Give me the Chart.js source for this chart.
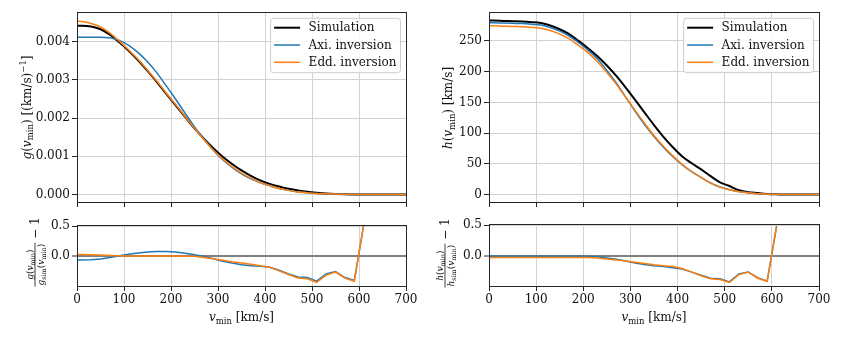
<!DOCTYPE html>
<html><head><meta charset="utf-8">
<script src="https://cdn.jsdelivr.net/npm/chart.js@4.4.1/dist/chart.umd.min.js"></script>
<style>
html,body{margin:0;padding:0;background:#fff;}
#wrap{position:relative;width:843px;height:337px;overflow:hidden;background:#fff;}
canvas{position:absolute;left:0;top:0;}
</style></head><body>
<div id="wrap">
<canvas id="c1" width="843" height="337"></canvas>
<canvas id="c2" width="843" height="337"></canvas>
<canvas id="c3" width="843" height="337"></canvas>
<canvas id="c4" width="843" height="337"></canvas>
</div>
<script>
// ---------- data ----------
const vmin = [0,10,30,50,70,90,110,130,150,170,190,210,230,250,270,290,310,330,350,370,390,410,430,450,470,490,510,530,550,570,590,610,630,650,670,690,700];

const gSim = [0.00441,0.00441,0.00439,0.00432,0.00418,0.00398,0.00376,0.00351,0.00323,0.00294,0.00263,0.00233,0.00203,0.00173,0.00146,0.00121,0.00099,0.00080,0.00063,0.00049,0.00037,0.00028,0.00021,0.00015,0.00011,0.000075,0.00005,0.00003,0.000018,0.00001,0.000004,0.000001,0,0,0,0,0];
const gAxi = [0.00411,0.00411,0.00411,0.00411,0.00410,0.00403,0.00390,0.00371,0.00347,0.00318,0.00284,0.00249,0.00213,0.00177,0.00145,0.00116,0.00091,0.00071,0.00054,0.00041,0.00031,0.00023,0.00016,0.00011,0.00007,0.000049,0.00003,0.000021,0.000013,0.0000065,0.0000024,0.0000015,0.0000005,0,0,0,0];
const gEdd = [0.00453,0.00452,0.00447,0.00438,0.00422,0.00401,0.00378,0.00353,0.00325,0.00296,0.00265,0.00235,0.00204,0.00173,0.00143,0.00116,0.00093,0.00073,0.00056,0.00043,0.00031,0.00023,0.00016,0.00011,0.00007,0.000047,0.000028,0.00002,0.000013,0.000006,0.000002,0.0000015,0.0000005,0,0,0,0];

const hSim = [283,283,282.5,282,281.5,280.5,279,275,269,261,250,238,225,210,193,174,154,133.5,113,94,77,62,51,41,30,20,14,7,4,2.5,1.2,0.5,0,0,0,0,0];
const hAxi = [279.6,279.6,279.1,278.6,278.1,277.1,275.7,271.7,265.8,257.9,247,235,220.5,202,181.5,158.5,135.5,114,94.4,77,61.6,48.4,37.2,27.9,18.9,12.4,8,4.9,2.9,1.6,0.7,0.74,0.3,0.1,0,0,0];
const hEdd = [274.5,274.5,274,273.5,273,272,270.6,266.8,261,253.2,242.5,231,216,198.5,179.5,158.3,137,116,96,78.5,63,49,37.2,27.5,18.6,12.2,7.8,4.8,2.9,1.6,0.7,0.74,0.3,0.1,0,0,0];

const resGAxi = [-0.06,-0.06,-0.055,-0.045,-0.02,0.01,0.035,0.055,0.07,0.08,0.08,0.07,0.05,0.025,-0.005,-0.04,-0.08,-0.11,-0.14,-0.155,-0.165,-0.18,-0.23,-0.29,-0.34,-0.35,-0.41,-0.29,-0.25,-0.35,-0.40,0.52,null,null,null,null,null];
const resGEdd = [0.03,0.03,0.025,0.02,0.015,0.01,0.005,0.005,0.005,0.005,0.005,0.005,0.0,0.0,-0.02,-0.04,-0.065,-0.09,-0.11,-0.13,-0.155,-0.18,-0.24,-0.30,-0.36,-0.37,-0.43,-0.31,-0.26,-0.36,-0.41,0.52,null,null,null,null,null];
const resHAxi = [-0.012,-0.012,-0.012,-0.012,-0.012,-0.012,-0.012,-0.012,-0.012,-0.012,-0.012,-0.013,-0.02,-0.04,-0.06,-0.09,-0.12,-0.145,-0.165,-0.18,-0.2,-0.22,-0.27,-0.32,-0.37,-0.38,-0.43,-0.30,-0.27,-0.36,-0.42,0.48,null,null,null,null,null];
const resHEdd = [-0.03,-0.03,-0.03,-0.03,-0.03,-0.03,-0.03,-0.03,-0.03,-0.03,-0.03,-0.03,-0.04,-0.055,-0.07,-0.09,-0.11,-0.13,-0.15,-0.165,-0.18,-0.21,-0.27,-0.33,-0.38,-0.39,-0.44,-0.31,-0.27,-0.37,-0.42,0.47,null,null,null,null,null];

const seriesLabels = ['Simulation','Axi. inversion','Edd. inversion'];
const xTicks = [0,100,200,300,400,500,600,700];

// ---------- styling ----------
const FONT = "'DejaVu Serif', serif";
const GRID = '#d2d2d2';
const SPINE = '#262626';
const C_SIM = '#000000', C_AXI = '#1f77b4', C_EDD = '#ff7f0e';
const YW = 60, XH = 30;

function mkData(xs, ys){ const out=[]; xs.forEach((x,i)=>{ if(ys[i]!==null && ys[i]!==undefined) out.push({x:x,y:ys[i]}); }); return out; }

function drawRich(ctx, parts, x, y){
  for(const p of parts){ ctx.font = p.f; ctx.fillText(p.t, x, y + (p.dy||0)); x += ctx.measureText(p.t).width; }
  return x;
}
function richWidth(ctx, parts){ let w=0; for(const p of parts){ ctx.font=p.f; w+=ctx.measureText(p.t).width; } return w; }

const fN = '12px '+FONT, fI = 'italic 12px '+FONT, fS = '8.5px '+FONT;
const fN9 = '9px '+FONT, fI9 = 'italic 9px '+FONT, fS9 = '6.5px '+FONT;

const vminParts = [{t:'v',f:fI},{t:'min',f:fS,dy:2.5},{t:' [km/s]',f:fN}];
const gTitle = [{t:'g',f:fI},{t:'(',f:fN},{t:'v',f:fI},{t:'min',f:fS,dy:2.5},{t:')',f:fN},{t:' [(km/s)',f:fN},{t:'\u22121',f:fS,dy:-5},{t:']',f:fN}];
const hTitle = [{t:'h',f:fI},{t:'(',f:fN},{t:'v',f:fI},{t:'min',f:fS,dy:2.5},{t:')',f:fN},{t:' [km/s]',f:fN}];
function numParts(s){ return [{t:s,f:fI9},{t:'(',f:fN9},{t:'v',f:fI9},{t:'min',f:fS9,dy:2},{t:')',f:fN9}]; }
function denParts(s){ return [{t:s,f:fI9},{t:'sim',f:fS9,dy:2},{t:'(',f:fN9},{t:'v',f:fI9},{t:'min',f:fS9,dy:2},{t:')',f:fN9}]; }

function rotatedTitle(ctx, parts, cx, cy){
  ctx.save(); ctx.translate(cx, cy); ctx.rotate(-Math.PI/2);
  ctx.fillStyle='#111'; ctx.textBaseline='alphabetic';
  const w = richWidth(ctx, parts); drawRich(ctx, parts, -w/2, 4);
  ctx.restore();
}
function fractionTitle(ctx, sym, cx, cy){
  ctx.save(); ctx.translate(cx, cy); ctx.rotate(-Math.PI/2);
  ctx.fillStyle='#111'; ctx.strokeStyle='#111'; ctx.textBaseline='alphabetic';
  const np = numParts(sym), dp = denParts(sym);
  const nw = richWidth(ctx,np), dw = richWidth(ctx,dp);
  const fw = Math.max(nw,dw)+2;
  ctx.font = fN; const tail = ' \u2212 1'; const tw = ctx.measureText(tail).width;
  const total = fw + tw; const x0 = -total/2;
  drawRich(ctx, np, x0 + (fw-nw)/2, -2.5);
  drawRich(ctx, dp, x0 + (fw-dw)/2, 8.5);
  ctx.lineWidth = 0.8; ctx.beginPath(); ctx.moveTo(x0, 0); ctx.lineTo(x0+fw, 0); ctx.stroke();
  ctx.font = fN; ctx.fillText(tail, x0+fw, 4.2);
  ctx.restore();
}
function xTitle(ctx, a){
  ctx.save(); ctx.fillStyle='#111'; ctx.textBaseline='alphabetic';
  const w = richWidth(ctx, vminParts); drawRich(ctx, vminParts, (a.left+a.right)/2 - w/2, 321);
  ctx.restore();
}

// per-canvas extra drawing (kept outside Chart options so they are not treated as scriptable)
const EXTRA = {
  c1: { legend:true, draw:(ctx,a)=>rotatedTitle(ctx, gTitle, 26.7, 107.5) },
  c2: { legend:true, draw:(ctx,a)=>rotatedTitle(ctx, hTitle, 448.3, 108) },
  c3: { legend:false, draw:(ctx,a)=>{ fractionTitle(ctx, 'g', 35, 252); xTitle(ctx,a); } },
  c4: { legend:false, draw:(ctx,a)=>{ fractionTitle(ctx, 'h', 445, 253); xTitle(ctx,a); } }
};

const framePlugin = { id:'frame', afterDraw(chart){
  const {ctx, chartArea:a} = chart; ctx.save();
  ctx.strokeStyle = SPINE; ctx.lineWidth = 1;
  const l = Math.round(a.left+0.5)-0.5, r = Math.round(a.right+0.5)-0.5, t = Math.round(a.top+0.5)-0.5, b = Math.round(a.bottom+0.5)-0.5;
  ctx.strokeRect(l, t, r-l, b-t); ctx.restore();
}};

const legendPlugin = { id:'lgd', afterDraw(chart){
  const ex = EXTRA[chart.canvas.id]; if(!ex || !ex.legend) return;
  const {ctx, chartArea:a} = chart; const ds = chart.data.datasets;
  ctx.save(); ctx.font = fN;
  const tw = Math.max(...ds.map(d=>ctx.measureText(d.label).width));
  const w = 38 + tw + 4, h = 54.4;
  const x = a.right - 5.5 - w, y = a.top + 6.3;
  ctx.beginPath(); ctx.roundRect(x, y, w, h, 3);
  ctx.fillStyle = 'rgba(255,255,255,0.85)'; ctx.fill();
  ctx.strokeStyle = '#cccccc'; ctx.lineWidth = 1; ctx.stroke();
  ds.forEach((d,i)=>{
    const yy = y + 9.4 + i*17.3;
    ctx.strokeStyle = d.borderColor; ctx.lineWidth = d.borderWidth;
    ctx.beginPath(); ctx.moveTo(x+3.5, yy); ctx.lineTo(x+29.5, yy); ctx.stroke();
    ctx.fillStyle = '#111'; ctx.textBaseline = 'middle'; ctx.fillText(d.label, x+38, yy+0.5);
  });
  ctx.restore();
}};

const titlePlugin = { id:'ttl', afterDraw(chart){
  const ex = EXTRA[chart.canvas.id]; if(!ex || !ex.draw) return;
  ex.draw(chart.ctx, chart.chartArea);
}};

function panel(id, area, yMin, yMax, yStep, yDec, series, cfg){
  return new Chart(document.getElementById(id), {
    type:'line',
    data:{ datasets: series.map(s=>({
      label:s.label, data:mkData(vmin, s.ys), borderColor:s.c, backgroundColor:s.c,
      borderWidth:s.w, pointRadius:0, fill:false, order:s.o, spanGaps:false,
      cubicInterpolationMode: cfg.smooth ? 'monotone' : 'default', tension:0, clip:1
    }))},
    options:{
      responsive:false, animation:false, events:[],
      layout:{ padding:{ left:area.l-YW, right:843-area.r, top:area.t, bottom:337-area.b-XH } },
      scales:{
        x:{ type:'linear', min:xTicks[0], max:xTicks[xTicks.length-1],
          afterFit:s=>{ s.height = XH; },
          ticks:{ stepSize:xTicks[1]-xTicks[0], autoSkip:false, maxRotation:0, includeBounds:false, padding:2,
            color: cfg.xLabels ? '#111' : 'rgba(0,0,0,0)', font:{family:FONT, size:12}, callback:v=>String(v) },
          grid:{ color:GRID, lineWidth:1, tickLength:5, tickColor:SPINE, tickWidth:1 },
          border:{ display:false } },
        y:{ type:'linear', min:yMin, max:yMax,
          afterFit:s=>{ s.width = YW; },
          ticks:{ stepSize:yStep, includeBounds:false, padding:2, color:'#111', font:{family:FONT, size:12},
            callback:v=>Number(v).toFixed(yDec) },
          grid:{ color: c => (cfg.zero && c.tick && Math.abs(c.tick.value)<1e-9) ? '#808080' : GRID,
                 lineWidth: c => (cfg.zero && c.tick && Math.abs(c.tick.value)<1e-9) ? 2 : 1,
                 tickLength:5, tickColor:SPINE, tickWidth:1 },
          border:{ display:false } }
      },
      plugins:{ legend:{display:false}, tooltip:{enabled:false} }
    },
    plugins:[framePlugin, legendPlugin, titlePlugin]
  });
}

const TL = {l:77, r:406, t:12, b:202};
const TR = {l:489, r:819, t:12, b:202};
const BL = {l:77, r:406, t:225, b:286};
const BR = {l:489, r:819, t:224, b:286};

panel('c1', TL, -0.000194, 0.004771, 0.001, 3, [
  {label:seriesLabels[0], ys:gSim, c:C_SIM, w:2, o:3},
  {label:seriesLabels[1], ys:gAxi, c:C_AXI, w:1.5, o:2},
  {label:seriesLabels[2], ys:gEdd, c:C_EDD, w:1.5, o:1}
], {smooth:true});

panel('c2', TR, -12, 297, 50, 0, [
  {label:seriesLabels[0], ys:hSim, c:C_SIM, w:2, o:3},
  {label:seriesLabels[1], ys:hAxi, c:C_AXI, w:1.5, o:2},
  {label:seriesLabels[2], ys:hEdd, c:C_EDD, w:1.5, o:1}
], {smooth:true});

panel('c3', BL, -0.49, 0.5165, 0.5, 1, [
  {label:seriesLabels[1], ys:resGAxi, c:C_AXI, w:1.5, o:2},
  {label:seriesLabels[2], ys:resGEdd, c:C_EDD, w:1.5, o:1}
], {smooth:false, xLabels:true, zero:true});

panel('c4', BR, -0.497, 0.5165, 0.5, 1, [
  {label:seriesLabels[1], ys:resHAxi, c:C_AXI, w:1.5, o:2},
  {label:seriesLabels[2], ys:resHEdd, c:C_EDD, w:1.5, o:1}
], {smooth:false, xLabels:true, zero:true});
</script>
</body></html>
